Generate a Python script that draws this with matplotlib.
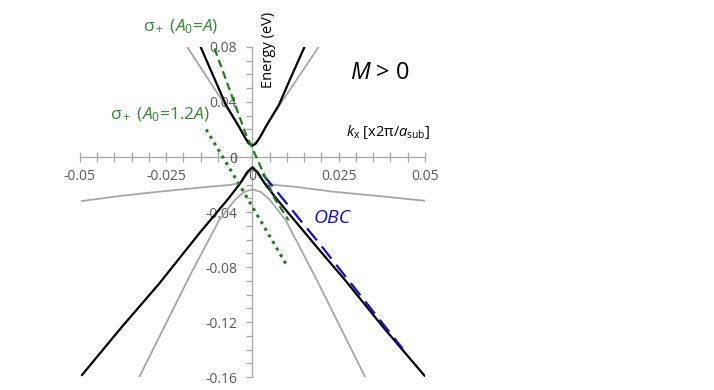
import matplotlib
matplotlib.use("Agg")
import matplotlib.pyplot as plt
from matplotlib.ticker import MultipleLocator

plt.rcParams['font.family'] = ['Open Sans', 'DejaVu Sans']
plt.rcParams['mathtext.fontset'] = 'custom'
plt.rcParams['mathtext.rm'] = 'Open Sans'
plt.rcParams['mathtext.it'] = 'Open Sans:italic'
plt.rcParams['axes.unicode_minus'] = False

# bands (kx in 2pi/a_sub, energy in eV)
k_cb_black = [-0.015, -0.0113, -0.0077, -0.004, -0.002, -0.001, 0.0, 0.001, 0.002, 0.004, 0.0077, 0.0113, 0.0151]
e_cb_black = [0.080, 0.0587, 0.038, 0.0225, 0.0135, 0.0098, 0.0082, 0.0098, 0.0135, 0.0225, 0.038, 0.0587, 0.080]

k_cb_grey = [-0.0189, -0.0077, -0.004, -0.002, 0.0, 0.002, 0.004, 0.0077, 0.0192]
e_cb_grey = [0.080, 0.037, 0.0225, 0.0135, 0.0082, 0.0135, 0.0225, 0.037, 0.080]

k_vb_black = [-0.0494, -0.038, -0.027, -0.0154, -0.0072, -0.0035, -0.0015, 0.0, 0.0015, 0.0035, 0.0072,
              0.0194, 0.0267, 0.038, 0.0499]
e_vb_black = [-0.1585, -0.124, -0.092, -0.0555, -0.031, -0.019, -0.011, -0.0075, -0.011, -0.019, -0.031,
              -0.0676, -0.089, -0.124, -0.159]

k_vb_grey = [-0.0328, -0.0173, -0.0096, -0.005, -0.0025, 0.0, 0.0025, 0.005, 0.0096, 0.0185, 0.0327]
e_vb_grey = [-0.160, -0.0822, -0.0458, -0.031, -0.0255, -0.0235, -0.0255, -0.031, -0.0458, -0.0885, -0.160]

k_flat_grey = [-0.0494, -0.038, -0.027, -0.0125, -0.0067, -0.0035, 0.0, 0.0035, 0.0067, 0.0122, 0.0233,
               0.037, 0.0499]
e_flat_grey = [-0.032, -0.0282, -0.0252, -0.0216, -0.0204, -0.019, -0.0075, -0.019, -0.0204, -0.0216, -0.0252,
               -0.0285, -0.0318]

k_obc = [0.003, 0.0194, 0.0436]
e_obc = [-0.0125, -0.0628, -0.1395]

k_sig1 = [-0.011, -0.0018, 0.0015, 0.0064, 0.0105]
e_sig1 = [0.079, 0.016, -0.002, -0.030, -0.046]

k_sig12 = [-0.0134, -0.0038, 0.0099]
e_sig12 = [0.020, -0.020, -0.0785]

xticks = [-0.05, -0.025, 0, 0.025, 0.05]
xlabels = ['-0.05', '-0.025', '0', '0.025', '0.05']
yticks = [0.08, 0.04, 0, -0.04, -0.08, -0.12, -0.16]
ylabels = ['0.08', '0.04', '0', '-0.04', '-0.08', '-0.12', '-0.16']

axis_grey = '#a6a6a6'
label_grey = '#595959'
band_grey = '#a6a6a6'
green = '#1a801a'
text_green = '#2e8b2e'
blue = '#1010c8'

fig = plt.figure(figsize=(7.14, 3.9), dpi=100)
ax = fig.add_axes([0.112, 0.0333, 0.483, 0.8462])

ax.plot(k_cb_grey, e_cb_grey, color=band_grey, lw=1.3, zorder=3)
ax.plot(k_vb_grey, e_vb_grey, color=band_grey, lw=1.3, zorder=3)
ax.plot(k_flat_grey, e_flat_grey, color=band_grey, lw=1.3, zorder=3)
ax.plot(k_cb_black, e_cb_black, color='black', lw=1.6, zorder=4)
ax.plot(k_vb_black, e_vb_black, color='black', lw=1.6, zorder=4)
ax.plot(k_obc, e_obc, color=blue, lw=1.6, dashes=(7, 3.5), zorder=5)
ax.plot(k_sig1, e_sig1, color=green, lw=1.6, dashes=(3.5, 2), zorder=5)
ax.plot(k_sig12, e_sig12, color=green, lw=2.2, linestyle=(0, (1, 1.5)), zorder=5)

ax.set_xlim(-0.05, 0.05)
ax.set_ylim(-0.16, 0.08)

for s in ['top', 'right']:
    ax.spines[s].set_visible(False)
ax.spines['left'].set_position(('data', 0))
ax.spines['bottom'].set_position(('data', 0))
for s in ['left', 'bottom']:
    ax.spines[s].set_color(axis_grey)
    ax.spines[s].set_linewidth(0.9)
    ax.spines[s].set_zorder(1)

ax.set_xticks(xticks)
ax.set_xticklabels(xlabels)
ax.set_yticks(yticks)
ax.set_yticklabels(ylabels)
ax.xaxis.set_minor_locator(MultipleLocator(0.005))
ax.yaxis.set_minor_locator(MultipleLocator(0.01))
ax.tick_params(axis='x', which='both', direction='inout', length=7, width=0.9,
               color=axis_grey, labelcolor=label_grey, labelsize=10, pad=5)
ax.tick_params(axis='y', which='both', direction='out', length=4, width=0.9,
               color=axis_grey, labelcolor=label_grey, labelsize=10, pad=7)
ax.patch.set_visible(False)

ax.text(0.0046, 0.0778, 'Energy (eV)', rotation=90, ha='center', va='center', fontsize=10.5, color='black')
ax.text(0.0394, 0.0185, r'$k_\mathrm{x}$ [x2π/$a_\mathrm{sub}$]', ha='center', va='center', fontsize=10.5)
ax.text(0.0371, 0.0609, r'$M$ > 0', ha='center', va='center', fontsize=17)
ax.text(0.023, -0.0444, 'OBC', style='italic', ha='center', va='center', fontsize=14, color=blue)
ax.text(-0.0209, 0.0945, r'σ$_+$ ($A_0$=$A$)', ha='center', va='center', fontsize=12.5, color=text_green)
ax.text(-0.0268, 0.0305, r'σ$_+$ ($A_0$=1.2$A$)', ha='center', va='center', fontsize=12.5, color=text_green)

fig.savefig('out.png', dpi=100)
